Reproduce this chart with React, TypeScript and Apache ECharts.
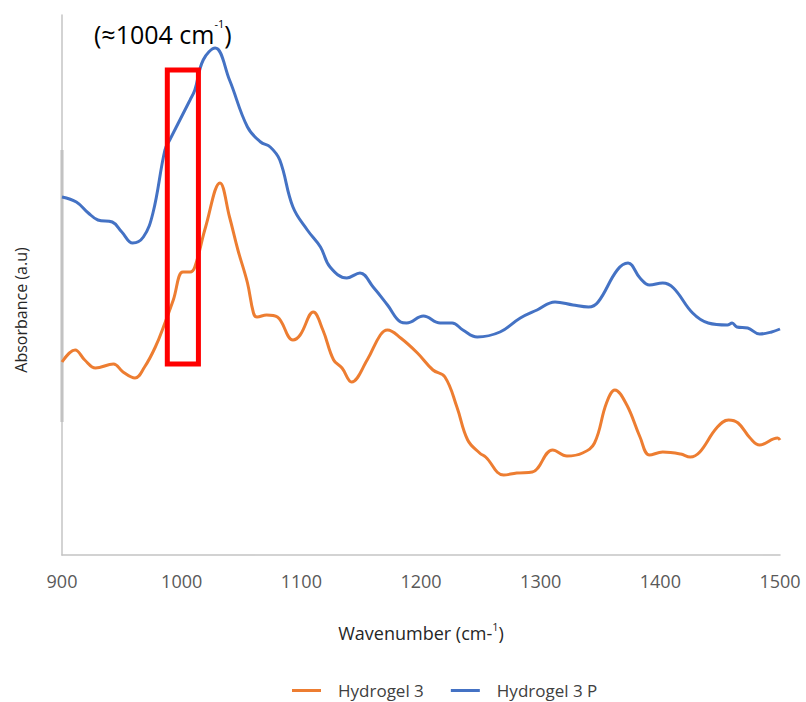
import React, { useEffect, useRef } from "react";
import * as echarts from "echarts";

// Wavenumber axis (cm-1)
const X_MIN = 900;
const X_MAX = 1500;
const X_STEP = 100;

// Hydrogel 3 P (blue) – wavenumber / absorbance (a.u., arbitrary scale)
const hydrogel3PX = [900, 912, 922, 930, 942, 950, 959, 968, 976, 986, 990, 1007, 1011, 1018, 1028, 1040, 1055, 1066, 1074, 1082, 1093, 1105, 1116, 1124, 1138, 1149, 1160, 1172, 1183, 1188, 1202, 1216, 1226, 1235, 1247, 1266, 1283, 1297, 1312, 1327, 1340, 1348, 1364, 1373, 1383, 1391, 1402, 1411, 1427, 1440, 1456, 1460, 1464, 1473, 1483, 1493, 1500];
const hydrogel3PY = [358, 353, 342, 335, 333, 323, 312, 318, 342, 405, 415, 455, 465, 495, 507, 475, 428, 413, 408, 395, 348, 325, 308, 288, 277, 282, 268, 250, 233, 232, 239, 232, 232, 225, 218, 223, 237, 245, 253, 250, 248, 253, 285, 292, 277, 270, 272, 267, 242, 232, 230, 232, 228, 227, 221, 223, 226];

// Hydrogel 3 (orange)
const hydrogel3X = [900, 911, 919, 928, 943, 951, 961, 969, 978, 986, 993, 1001, 1007, 1011, 1020, 1032, 1040, 1047, 1055, 1060, 1063, 1071, 1080, 1093, 1099, 1110, 1118, 1127, 1134, 1142, 1155, 1166, 1172, 1183, 1197, 1210, 1220, 1230, 1239, 1249, 1254, 1269, 1280, 1293, 1310, 1322, 1335, 1345, 1355, 1362, 1372, 1383, 1391, 1402, 1417, 1425, 1433, 1447, 1457, 1465, 1475, 1483, 1498, 1500];
const hydrogel3Y = [193, 205, 195, 187, 191, 183, 177, 188, 208, 232, 255, 283, 283, 288, 328, 372, 338, 305, 272, 242, 238, 240, 238, 215, 220, 243, 225, 195, 187, 173, 195, 220, 225, 217, 202, 185, 178, 148, 115, 102, 98, 80, 82, 83, 105, 99, 102, 112, 152, 165, 150, 118, 100, 103, 101, 98, 103, 127, 135, 132, 117, 110, 117, 115];

// Highlighted band around 1004 cm-1
const BAND_X = [988, 1014];
const BAND_Y = [191, 485];

const Y_MIN = 0;
const Y_MAX = 540;

const ORANGE = "#ED7D31";
const BLUE = "#4472C4";
const AXIS_GRAY = "#C4C4C4";
const FONT = "'Open Sans', 'Noto Sans', sans-serif";

const pair = (xs: number[], ys: number[]) => xs.map((x, i) => [x, ys[i]]);

export default function App() {
  const ref = useRef<HTMLDivElement>(null);

  useEffect(() => {
    const chart = echarts.init(ref.current!, null, { renderer: "svg" });
    chart.setOption({
      animation: false,
      backgroundColor: "#ffffff",
      grid: { left: 62, right: 26, top: 15, bottom: 147 },
      xAxis: {
        type: "value",
        min: X_MIN,
        max: X_MAX,
        interval: X_STEP,
        axisLine: { show: true, lineStyle: { color: AXIS_GRAY, width: 1.5 } },
        axisTick: { show: false },
        splitLine: { show: false },
        axisLabel: {
          color: "#595959",
          fontSize: 18,
          fontFamily: FONT,
          margin: 17,
          showMinLabel: true,
          showMaxLabel: true,
          formatter: (v: number) => String(v),
        },
        name: "{n|Wavenumber (cm-}{sup|1}{n|)}",
        nameLocation: "middle",
        nameGap: 66,
        nameTextStyle: {
          rich: {
            n: { fontSize: 18, fontFamily: FONT, color: "#262626", lineHeight: 24 },
            sup: { fontSize: 11, fontFamily: FONT, color: "#262626", lineHeight: 13, verticalAlign: "top" },
          },
        },
      },
      yAxis: {
        type: "value",
        min: Y_MIN,
        max: Y_MAX,
        axisLine: { show: true, lineStyle: { color: AXIS_GRAY, width: 1.5 } },
        axisTick: { show: false },
        axisLabel: { show: false },
        splitLine: { show: false },
      },
      legend: {
        left: 287,
        top: 677,
        icon: "rect",
        itemWidth: 29,
        itemHeight: 3,
        itemGap: 27,
        textStyle: {
          color: "#404040",
          fontSize: 17,
          fontFamily: FONT,
          padding: [0, 0, 0, 12],
        },
        data: ["Hydrogel 3", "Hydrogel 3 P"],
      },
      graphic: [
        {
          type: "line",
          shape: { x1: 62, y1: 150, x2: 62, y2: 422 },
          style: { stroke: "#BDBDBD", lineWidth: 3 },
          silent: true,
        },
        {
          type: "text",
          x: 94,
          y: 34,
          style: {
            text: "{n|(≈1004 cm}{sup|-1}{n|)}",
            textVerticalAlign: "middle",
            rich: {
              n: { fontSize: 25, fontFamily: FONT, fill: "#000000", lineHeight: 32 },
              sup: { fontSize: 11, fontFamily: FONT, fill: "#000000", lineHeight: 13, verticalAlign: "top" },
            },
          },
        },
        {
          type: "text",
          x: 21,
          y: 310,
          rotation: Math.PI / 2,
          style: {
            text: "Absorbance (a.u)",
            fill: "#262626",
            fontSize: 16,
            fontFamily: FONT,
            textAlign: "center",
            textVerticalAlign: "middle",
          },
        },
      ],
      series: [
        {
          name: "Hydrogel 3",
          type: "line",
          data: pair(hydrogel3X, hydrogel3Y),
          smooth: 0.4,
          symbol: "none",
          lineStyle: { color: ORANGE, width: 3 },
          itemStyle: { color: ORANGE },
          z: 2,
        },
        {
          name: "Hydrogel 3 P",
          type: "line",
          data: pair(hydrogel3PX, hydrogel3PY),
          smooth: 0.4,
          symbol: "none",
          lineStyle: { color: BLUE, width: 3 },
          itemStyle: { color: BLUE },
          z: 2,
          markArea: {
            silent: true,
            z: 5,
            itemStyle: { color: "rgba(0,0,0,0)", borderColor: "#FF0000", borderWidth: 5 },
            label: { show: false },
            data: [[{ xAxis: BAND_X[0], yAxis: BAND_Y[1] }, { xAxis: BAND_X[1], yAxis: BAND_Y[0] }]],
          },
        },
      ],
    });
    return () => chart.dispose();
  }, []);

  return (
    <div
      ref={ref}
      style={{ position: "fixed", left: 0, top: 0, width: 806, height: 702 }}
    />
  );
}
